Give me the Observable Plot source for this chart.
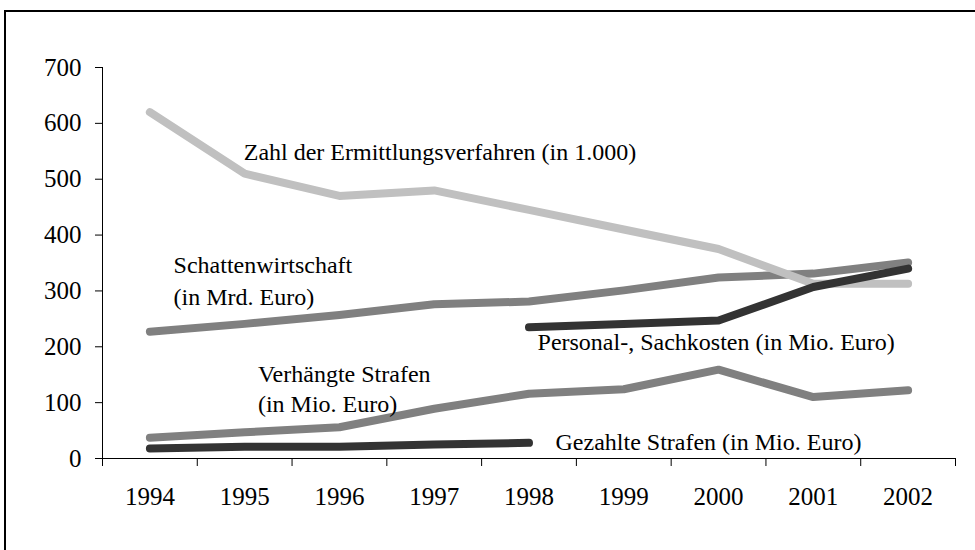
<!DOCTYPE html>
<html>
<head>
<meta charset="utf-8">
<script src="https://cdn.jsdelivr.net/npm/d3@7"></script>
<script src="https://cdn.jsdelivr.net/npm/@observablehq/plot@0.6"></script>
<style>
  html, body { margin: 0; padding: 0; background: #fff; }
  #wrap { position: relative; width: 975px; height: 550px; overflow: hidden; }
  #frame { position: absolute; left: 4px; top: 10px; width: 1000px; height: 600px;
           border-left: 2px solid #000; border-top: 2px solid #000; pointer-events: none; }
  #chart svg { display: block; }
  #chart svg, #chart svg text, #chart svg g {
    font-family: "Liberation Serif", "Times New Roman", Times, Tinos, "DejaVu Serif", serif !important;
  }
</style>
</head>
<body>
<div id="wrap">
  <div id="chart"></div>
  <div id="frame"></div>
</div>
<script>
const years = [1994, 1995, 1996, 1997, 1998, 1999, 2000, 2001, 2002];
const yTicks = [0, 100, 200, 300, 400, 500, 600, 700];

const ermittlungsverfahren = [620, 510, 470, 480, 445, 410, 375, 313, 313];
const schattenwirtschaft   = [227, 241, 257, 276, 281, 301, 324, 331, 351];
const verhaengteStrafen    = [37, 47, 56, 89, 116, 124, 159, 110, 122];
const personalSachkosten   = [null, null, null, null, 235, 241, 247, 307, 340];
const gezahlteStrafen      = [18, 21, 21, 25, 28, null, null, null, null];

const labels = [
  {text: "Zahl der Ermittlungsverfahren (in 1.000)", year: 1994.99, value: 551, lh: 1.2},
  {text: "Schattenwirtschaft\n(in Mrd. Euro)", year: 1994.25, value: 322, lh: 1.33},
  {text: "Verhängte Strafen\n(in Mio. Euro)", year: 1995.14, value: 127, lh: 1.25},
  {text: "Personal-, Sachkosten (in Mio. Euro)", year: 1998.09, value: 211, lh: 1.2},
  {text: "Gezahlte Strafen (in Mio. Euro)", year: 1998.28, value: 31, lh: 1.2}
];

const rows = (vals) => years.map((y, i) => ({year: y, value: vals[i]}));
const edges = years.map(y => y - 0.5).concat([years[years.length - 1] + 0.5]);

const lineOpts = (color) => ({
  x: "year", y: "value", stroke: color, strokeWidth: 8,
  strokeLinecap: "round", strokeLinejoin: "round"
});

const serif = "'Liberation Serif', 'Times New Roman', Times, Tinos, 'DejaVu Serif', serif";

const chart = Plot.plot({
  width: 975,
  height: 550,
  marginLeft: 102,
  marginRight: 20,
  marginTop: 67,
  marginBottom: 92,
  style: {fontFamily: serif, color: "#000", background: "transparent"},
  x: {domain: [edges[0], edges[edges.length - 1]]},
  y: {domain: [0, 700]},
  marks: [
    Plot.ruleX([edges[0]], {stroke: "#000", strokeWidth: 1}),
    Plot.ruleY([0], {stroke: "#000", strokeWidth: 1}),
    Plot.axisY({ticks: yTicks, tickSize: 7, tickPadding: 14, fontSize: 25, fontFamily: serif, label: null, stroke: "#000"}),
    Plot.axisX({ticks: edges, tickSize: 8, tickFormat: () => "", label: null, stroke: "#000"}),
    Plot.axisX({ticks: years, tickSize: 0, tickPadding: 29, fontSize: 25, fontFamily: serif, label: null, tickFormat: d => String(d)}),
    Plot.line(rows(schattenwirtschaft), lineOpts("#808080")),
    Plot.line(rows(verhaengteStrafen), lineOpts("#808080")),
    Plot.line(rows(ermittlungsverfahren), lineOpts("#c0c0c0")),
    Plot.line(rows(personalSachkosten), lineOpts("#333333")),
    Plot.line(rows(gezahlteStrafen), lineOpts("#333333")),
    ...labels.map(l => Plot.text([l], {
      x: "year", y: "value", text: "text", textAnchor: "start", lineAnchor: "middle",
      lineHeight: l.lh, fontSize: 24, fontFamily: serif, fill: "#000"
    }))
  ]
});
document.getElementById("chart").appendChild(chart);
</script>
</body>
</html>
